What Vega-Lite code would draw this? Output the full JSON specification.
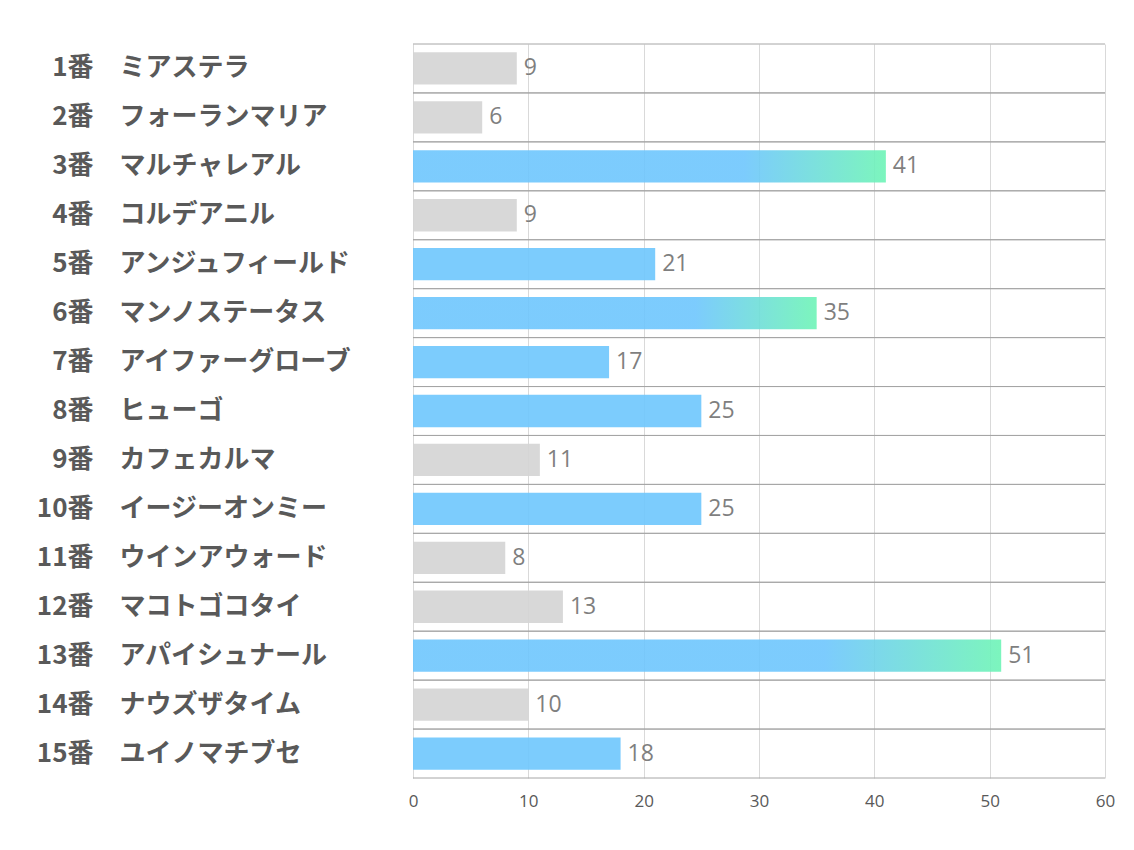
{
  "$schema": "https://vega.github.io/schema/vega-lite/v6.json",
  "width": 692,
  "height": 734,
  "padding": {"left": 36, "top": 43, "right": 20, "bottom": 10},
  "background": "white",
  "config": {"view": {"stroke": null}, "font": "Noto Sans CJK JP"},
  "data": {
    "values": [
      {"label": "1番　ミアステラ", "value": 9, "type": "gray"},
      {"label": "2番　フォーランマリア", "value": 6, "type": "gray"},
      {"label": "3番　マルチャレアル", "value": 41, "type": "grad"},
      {"label": "4番　コルデアニル", "value": 9, "type": "gray"},
      {"label": "5番　アンジュフィールド", "value": 21, "type": "blue"},
      {"label": "6番　マンノステータス", "value": 35, "type": "grad"},
      {"label": "7番　アイファーグローブ", "value": 17, "type": "blue"},
      {"label": "8番　ヒューゴ", "value": 25, "type": "blue"},
      {"label": "9番　カフェカルマ", "value": 11, "type": "gray"},
      {"label": "10番　イージーオンミー", "value": 25, "type": "blue"},
      {"label": "11番　ウインアウォード", "value": 8, "type": "gray"},
      {"label": "12番　マコトゴコタイ", "value": 13, "type": "gray"},
      {"label": "13番　アパイシュナール", "value": 51, "type": "grad"},
      {"label": "14番　ナウズザタイム", "value": 10, "type": "gray"},
      {"label": "15番　ユイノマチブセ", "value": 18, "type": "blue"}
    ]
  },
  "resolve": {"axis": {"y": "independent"}},
  "layer": [
    {
      "mark": {"type": "bar", "color": "#d4d4d4", "fillOpacity": 0.9, "height": {"band": 0.66}},
      "transform": [{"filter": "datum.type === 'gray'"}],
      "encoding": {
        "y": {
          "field": "label", "type": "nominal",
          "scale": {"domain": ["1番　ミアステラ", "2番　フォーランマリア", "3番　マルチャレアル", "4番　コルデアニル", "5番　アンジュフィールド", "6番　マンノステータス", "7番　アイファーグローブ", "8番　ヒューゴ", "9番　カフェカルマ", "10番　イージーオンミー", "11番　ウインアウォード", "12番　マコトゴコタイ", "13番　アパイシュナール", "14番　ナウズザタイム", "15番　ユイノマチブセ"], "paddingInner": 0, "paddingOuter": 0},
          "axis": {
            "orient": "left",
            "title": null, "domain": false, "ticks": false, "grid": false,
            "labelAlign": "right", "labelBaseline": "middle", "labelPadding": 320,
            "labelFontSize": 26, "labelFontWeight": "bold", "labelColor": "#595959",
            "labelFont": "Noto Sans CJK JP", "labelLimit": 0,
            "labelExpr": "split(datum.value, '　')[0]"
          }
        },
        "x": {
          "field": "value",
          "type": "quantitative",
          "scale": {"domain": [0, 60], "nice": false},
          "axis": {
            "values": [0, 10, 20, 30, 40, 50, 60],
            "title": null, "domain": false, "ticks": false, "grid": true,
            "gridColor": "#d9d9d9",
            "labelFontSize": 17, "labelColor": "#595959", "labelFont": "Open Sans",
            "labelPadding": 15, "labelFlush": false
          }
        }
      }
    },
    {
      "mark": {"type": "bar", "color": "#6ec6fd", "fillOpacity": 0.9, "height": {"band": 0.66}},
      "transform": [{"filter": "datum.type === 'blue'"}],
      "encoding": {
        "y": {
          "field": "label", "type": "nominal",
          "axis": {
            "orient": "left",
            "title": null, "domain": false, "ticks": false, "grid": false,
            "labelAlign": "left", "labelBaseline": "middle", "labelPadding": 294,
            "labelFontSize": 26, "labelFontWeight": "bold", "labelColor": "#595959",
            "labelFont": "Noto Sans CJK JP", "labelLimit": 0,
            "labelExpr": "split(datum.value, '　')[1]"
          }
        },
        "x": {"field": "value", "type": "quantitative"}
      }
    },
    {
      "mark": {
        "type": "bar",
        "fillOpacity": 0.9,
        "height": {"band": 0.66},
        "color": {
          "gradient": "linear",
          "x1": 0, "y1": 0, "x2": 1, "y2": 0,
          "stops": [
            {"offset": 0, "color": "#6ec6fd"},
            {"offset": 0.7, "color": "#6ec6fd"},
            {"offset": 1, "color": "#6ef4b6"}
          ]
        }
      },
      "transform": [{"filter": "datum.type === 'grad'"}],
      "encoding": {
        "y": {"field": "label", "type": "nominal", "axis": null},
        "x": {"field": "value", "type": "quantitative"}
      }
    },
    {
      "mark": {"type": "rule", "color": "#a6a6a6", "strokeWidth": 1},
      "encoding": {"y": {"field": "label", "type": "nominal", "bandPosition": 0, "axis": null}}
    },
    {
      "mark": {"type": "rule", "color": "#a6a6a6", "strokeWidth": 1},
      "encoding": {"y": {"field": "label", "type": "nominal", "bandPosition": 1, "axis": null}}
    },
    {
      "mark": {"type": "text", "align": "left", "baseline": "middle", "dx": 7, "fontSize": 23, "font": "Open Sans", "color": "#7f7f7f"},
      "encoding": {
        "y": {"field": "label", "type": "nominal", "axis": null},
        "x": {"field": "value", "type": "quantitative"},
        "text": {"field": "value", "type": "quantitative"}
      }
    }
  ]
}
